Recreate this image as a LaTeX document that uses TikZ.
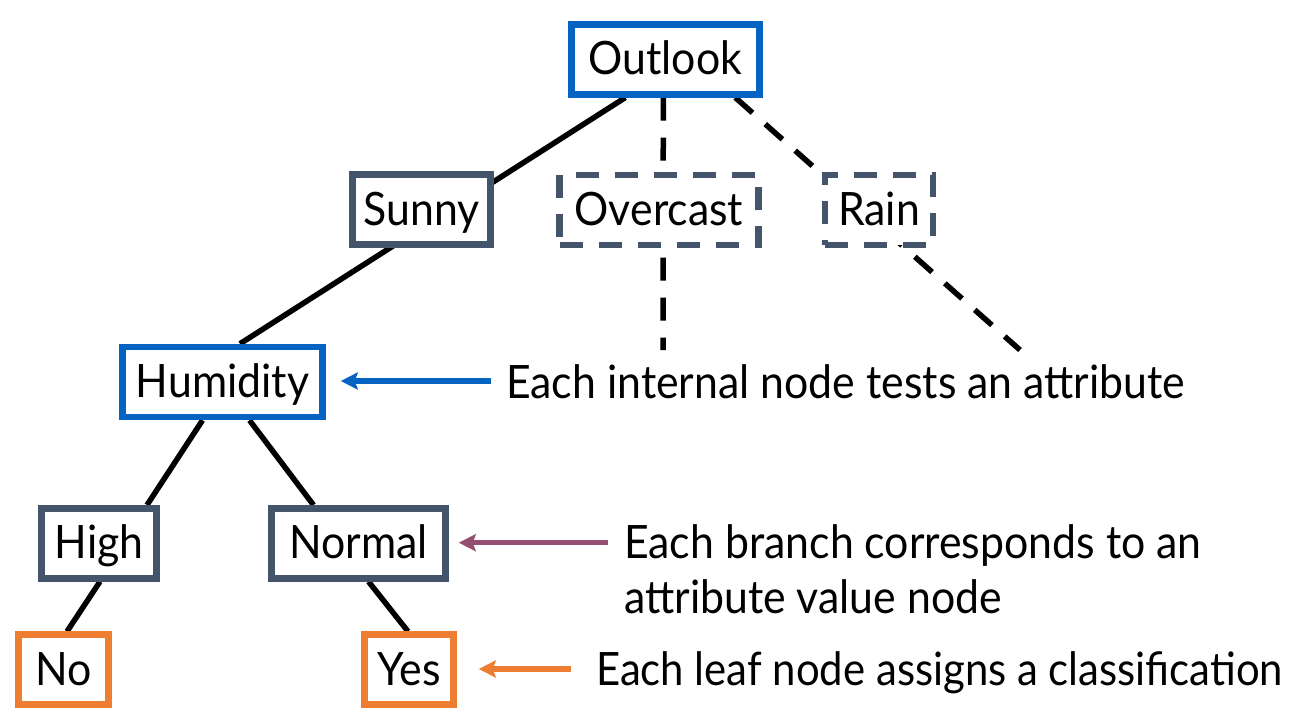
\documentclass[tikz,border=0pt]{standalone}
\usepackage{fontspec}
\setmainfont[FakeStretch=0.93]{Lato}
\usetikzlibrary{arrows.meta,calc}
\definecolor{cblue}{HTML}{0563C1}
\definecolor{cslate}{HTML}{44546A}
\definecolor{corange}{HTML}{ED7D31}
\definecolor{cpurple}{HTML}{954F72}
\pgfdeclarelayer{bg}
\pgfsetlayers{bg,main}
\begin{document}
\begin{tikzpicture}[x=1pt,y=-1pt,
  txt/.style={font=\fontsize{46}{54}\selectfont},
  box/.style={txt, draw, line width=6.5pt, fill=white, minimum height=70pt, inner sep=0pt, text height=31pt, text depth=0pt},
  attr/.style={box, draw=cblue},
  val/.style={box, draw=cslate},
  dval/.style={val, dash pattern=on 23pt off 16pt},
  leaf/.style={box, draw=corange},
  edge/.style={line width=5.5pt, black},
  dedge/.style={edge, dash pattern=on 23pt off 17pt},
  note/.style={txt, anchor=base west, inner sep=0pt},
  pointer/.style={line width=5.5pt, -{Stealth[length=17pt,width=17pt,inset=3pt]}}
]
\useasboundingbox (0,0) rectangle (1305,723);

\node[attr, minimum width=188pt] (outlook) at (665.3,59.3) {Outlook};
\node[val, minimum width=138pt] (sunny) at (421.5,209.5) {Sunny};
\node[dval, minimum width=199pt] (overcast) at (659,210) {Overcast};
\node[dval, minimum width=108pt] (rain) at (879,210) {Rain};
\node[attr, minimum width=200pt] (humidity) at (222.5,382) {Humidity};
\node[val, minimum width=115pt] (high) at (99,543.3) {High};
\node[val, minimum width=174pt] (normal) at (358.5,543.3) {Normal};
\node[leaf, minimum width=90pt] (no) at (63.5,669.7) {No};
\node[leaf, minimum width=89pt] (yes) at (409,669.7) {Yes};

\coordinate (ovend) at (663,350);
\coordinate (rainend) at (1020,350);

\begin{pgfonlayer}{bg}
\fill[white] (0,0) rectangle (1305,723);
\draw[edge] ($(outlook.south)+(-40,0)$) -- ($(humidity.north)+(17.5,0)$);
\draw[dedge] ($(outlook.south)+(-2,0)$) -- (ovend);
\draw[dedge] ($(outlook.south)+(70,0)$) -- (rainend);
\draw[edge] ($(humidity.south)+(-20,0)$) -- ($(high.north)+(48,0)$);
\draw[edge] ($(humidity.south)+(27,0)$) -- ($(normal.north)+(-45,0)$);
\draw[edge] ($(high.south)+(1,0)$) -- ($(no.north)+(3.5,0)$);
\draw[edge] ($(normal.south)+(10,0)$) -- ($(yes.north)+(-1,0)$);
\end{pgfonlayer}

\node[note] (n1) at (506,398) {Each internal node tests an attribute};
\node[note] (n2) at (624,558) {Each branch corresponds to an};
\node[note] (n2b) at (624,613) {attribute value node};
\node[note, font=\fontsize{46}{54}\selectfont\addfontfeature{FakeStretch=0.91}] (n3) at (596,685) {Each leaf node assigns a classification};

\coordinate (t1) at (490.7,381);
\coordinate (t2) at (608,542.7);
\coordinate (t3) at (571,669);
\draw[pointer, cblue] (t1) -- ($(humidity.east)+(15,-1)$);
\draw[pointer, cpurple] (t2) -- ($(normal.east)+(10,-0.6)$);
\draw[pointer, corange] (t3) -- ($(yes.east)+(22,-0.7)$);
\end{tikzpicture}
\end{document}
